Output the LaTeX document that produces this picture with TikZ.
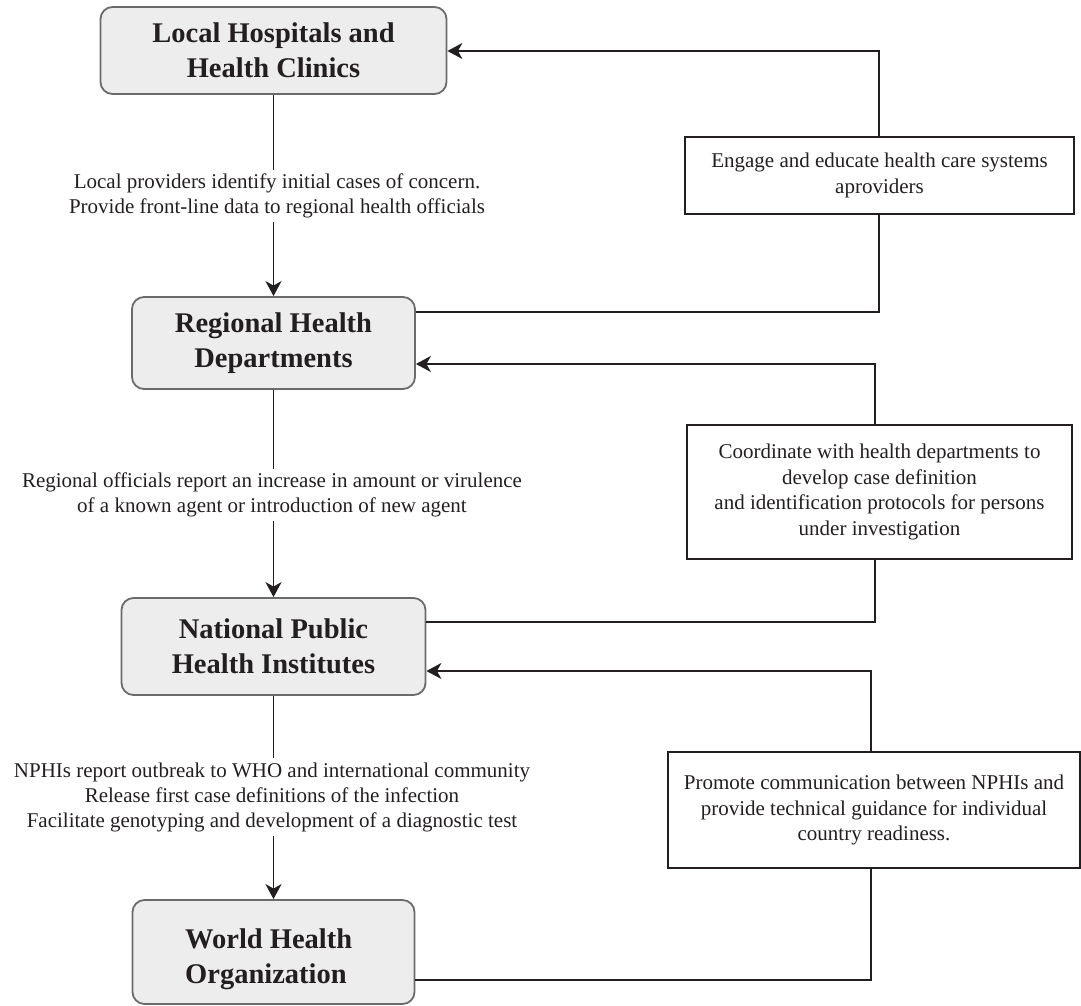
\documentclass[tikz,border=0pt]{standalone}
\usepackage{fontspec}
\setmainfont{Liberation Serif}
\usetikzlibrary{arrows.meta}
\definecolor{boxfill}{HTML}{EDEDED}
\definecolor{boxdraw}{HTML}{6B6B6B}
\definecolor{ink}{HTML}{231F20}
\begin{document}
\begin{tikzpicture}[x=1pt,y=-1pt,
  boldtext/.style={font=\fontsize{28.5}{34.5}\selectfont\bfseries, text=ink},
  mainbox/.style={draw=boxdraw, line width=1.8pt, fill=boxfill, rounded corners=12pt, align=center,
    boldtext, inner sep=0pt},
  sidebox/.style={draw=ink, line width=1.8pt, fill=white, align=center,
    font=\fontsize{21}{25.5}\selectfont, text=ink, inner sep=0pt},
  lbl/.style={align=center, font=\fontsize{21}{25}\selectfont, text=ink, inner xsep=2pt, inner ysep=4pt},
  conn/.style={draw=ink, line width=1.8pt},
  arr/.style={conn, -{Stealth[length=15pt,width=16pt,inset=4.5pt]}}]
\useasboundingbox (0,0) rectangle (1081,1006);

% main column
\node[mainbox, minimum width=346, minimum height=87] (b1) at (273.5,50.5) {Local Hospitals and\\Health Clinics};
\node[mainbox, minimum width=283, minimum height=92] (b2) at (273.5,343) {Regional Health\\Departments};
\node[mainbox, minimum width=304, minimum height=97] (b3) at (273.5,646.5) {National Public\\Health Institutes};
\node[mainbox, minimum width=282, minimum height=104] (b4) at (273.5,952) {};
\node[boldtext, align=left, inner sep=0pt, anchor=west] (b4t) at (185,959) {World Health\\Organization};

% labels on the vertical flow
\node[lbl] (l1) at (277,196) {Local providers identify initial cases of concern.\\Provide front-line data to regional health officials};
\node[lbl] (l2) at (272,495) {Regional officials report an increase in amount or virulence\\of a known agent or introduction of new agent};
\node[lbl] (l3) at (272,797) {NPHIs report outbreak to WHO and international community\\Release first case definitions of the infection\\Facilitate genotyping and development of a diagnostic test};

% side boxes
\node[sidebox, minimum width=389, minimum height=77] (A) at (879.5,175.5) {Engage and educate health care systems\\aproviders};
\node[sidebox, minimum width=385, minimum height=134] (B) at (879.5,492) {Coordinate with health departments to\\develop case definition\\and identification protocols for persons\\under investigation};
\node[sidebox, minimum width=412, minimum height=116] (C) at (874,810) {Promote communication between NPHIs and\\provide technical guidance for individual\\country readiness.};

% vertical flow
\draw[conn] (b1.south) -- (l1.north -| b1.south);
\draw[arr] (l1.south -| b1.south) -- (b2.north);
\draw[conn] (b2.south) -- (l2.north -| b2.south);
\draw[arr] (l2.south -| b2.south) -- (b3.north);
\draw[conn] (b3.south) -- (l3.north -| b3.south);
\draw[arr] (l3.south -| b3.south) -- (b4.north);

% side loops
\coordinate (ya) at (879,51);
\coordinate (yab) at (879,312);
\draw[arr] (A.north -| ya) |- (b1.east |- ya);
\draw[conn] (b2.east |- yab) -| (A.south -| yab);

\coordinate (yb) at (875,364);
\coordinate (ybb) at (875,622);
\draw[arr] (B.north -| yb) |- (b2.east |- yb);
\draw[conn] (b3.east |- ybb) -| (B.south -| ybb);

\coordinate (yc) at (871,671);
\coordinate (ycb) at (871,980);
\draw[arr] (C.north -| yc) |- (b3.east |- yc);
\draw[conn] (b4.east |- ycb) -| (C.south -| ycb);
\end{tikzpicture}
\end{document}
